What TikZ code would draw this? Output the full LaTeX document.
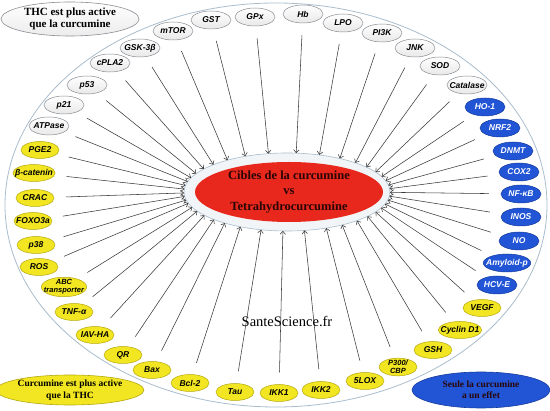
\documentclass[tikz,border=0pt]{standalone}
\usepackage{fontspec}
\setmainfont{Liberation Serif}
\newfontfamily\labfont{Liberation Sans}
\usetikzlibrary{shapes.geometric,calc,arrows.meta}
\definecolor{ylw}{HTML}{F2E622}
\definecolor{ylwdk}{HTML}{B5A810}
\definecolor{blu}{HTML}{2155D6}
\definecolor{bludk}{HTML}{163C9E}
\definecolor{redc}{HTML}{E8281C}
\definecolor{rim}{HTML}{A9BDCD}
\definecolor{halo}{HTML}{F2F5F8}
\definecolor{wbd}{HTML}{8A8F95}
\definecolor{lnc}{HTML}{3A3A3A}
\definecolor{ctext}{HTML}{2A0505}
\begin{document}
\begin{tikzpicture}[x=1pt,y=-1pt,
  tgt/.style={ellipse, inner xsep=-4pt, inner ysep=-0.5pt, line width=0.5pt,
    font=\labfont\bfseries\itshape\fontsize{8.5}{9}\selectfont, align=center},
  wnode/.style={tgt, draw=wbd, top color=white, bottom color=gray!18, minimum width=40pt, minimum height=18pt},
  bnode/.style={tgt, draw=bludk, fill=blu, text=white, minimum width=40pt, minimum height=18pt},
  ynode/.style={tgt, draw=ylwdk, fill=ylw, minimum width=38pt, minimum height=17pt},
  arr/.style={draw=lnc, line width=0.55pt, -{Straight Barb[length=3pt,width=5.5pt]}, shorten <=12pt},
  bigl/.style={ellipse, inner sep=0pt, line width=0.6pt, align=center, font=\bfseries\fontsize{9.5}{11.5}\selectfont}
]
\useasboundingbox (0,0) rectangle (550,411);
\fill[white] (0,0) rectangle (550,411);
% outer ring
\node[ellipse, draw=rim, line width=0.8pt, minimum width=542pt, minimum height=404pt, inner sep=0pt] (ring) at (276,205) {};
% hub
\node[ellipse, draw=rim, fill=halo, line width=0.6pt, minimum width=206pt, minimum height=78pt, inner sep=0pt] (hub) at (287,192) {};
\node[ellipse, fill=redc, minimum width=188pt, minimum height=60pt, inner sep=0pt, text=ctext, align=center,
  font=\bfseries\fontsize{12.5}{15.5}\selectfont] (core) at (289,192) {Cibles de la curcumine\\vs\\Tetrahydrocurcumine};
% white
\node[wnode] (w1) at (49,126) {ATPase};
\node[wnode] (w2) at (64,105) {p21};
\node[wnode] (w3) at (87,85) {p53};
\node[wnode] (w4) at (110,63) {cPLA2};
\node[wnode] (w5) at (140,48) {GSK-3β};
\node[wnode] (w6) at (173,31) {mTOR};
\node[wnode] (w7) at (211,20) {GST};
\node[wnode] (w8) at (255,17) {GPx};
\node[wnode] (w9) at (303,14) {Hb};
\node[wnode] (w10) at (343,23) {LPO};
\node[wnode] (w11) at (382,33) {PI3K};
\node[wnode] (w12) at (415,48) {JNK};
\node[wnode] (w13) at (440,66) {SOD};
\node[wnode] (w14) at (467,85) {Catalase};
% blue
\node[bnode] (b1) at (485,107) {HO-1};
\node[bnode] (b2) at (500,128) {NRF2};
\node[bnode] (b3) at (513,151) {DNMT};
\node[bnode] (b4) at (519,172) {COX2};
\node[bnode] (b5) at (521,194) {NF-κB};
\node[bnode] (b6) at (521,217) {INOS};
\node[bnode] (b7) at (519,241) {NO};
\node[bnode] (b8) at (507,263) {Amyloid-p};
\node[bnode] (b9) at (497,285) {HCV-E};
% yellow
\node[ynode] (y1) at (482,308) {VEGF};
\node[ynode] (y2) at (460,330) {Cyclin D1};
\node[ynode] (y3) at (433,350) {GSH};
\node[ynode, font=\labfont\bfseries\itshape\fontsize{7.5}{8}\selectfont] (y4) at (398,367) {P300/\\CBP};
\node[ynode] (y5) at (365,381) {5LOX};
\node[ynode] (y6) at (321,390) {IKK2};
\node[ynode] (y7) at (279,393) {IKK1};
\node[ynode] (y8) at (235,392) {Tau};
\node[ynode] (y9) at (190,383) {Bcl-2};
\node[ynode] (y10) at (152,370) {Bax};
\node[ynode] (y11) at (123,355) {QR};
\node[ynode] (y12) at (95,335) {IAV-HA};
\node[ynode] (y13) at (74,312) {TNF-α};
\node[ynode, font=\labfont\bfseries\itshape\fontsize{7.5}{8}\selectfont] (y14) at (64,287) {ABC\\transporter};
\node[ynode] (y15) at (39,267) {ROS};
\node[ynode] (y16) at (36,245) {p38};
\node[ynode] (y17) at (33,221) {FOXO3a};
\node[ynode] (y18) at (35,198) {CRAC};
\node[ynode] (y19) at (34,173) {β-catenin};
\node[ynode] (y20) at (40,150) {PGE2};
% arrows
\foreach \k in {w1,w2,w3,w4,w5,w6,w7,w8,w9,w10,w11,w12,w13,w14,b1,b2,b3,b4,b5,b6,b7,b8,b9,y1,y2,y3,y4,y5,y6,y7,y8,y9,y10,y11,y12,y13,y14,y15,y16,y17,y18,y19,y20}
  \draw[arr] let \p1=($(\k)-(hub.center)$), \n1={atan2(\y1,\x1)} in (\k) -- ($(hub.center)+(\n1:103pt and 39pt)$);
% legend labels
\node[bigl, draw=wbd, top color=white, bottom color=gray!15, minimum width=138pt, minimum height=34pt,
  font=\bfseries\fontsize{11}{12.5}\selectfont] (lthc) at (70,19) {THC est plus active\\que la curcumine};
\node[bigl, draw=ylwdk, fill=ylw, minimum width=136pt, minimum height=30pt] (lcur) at (70,390) {Curcumine est plus active\\que la THC};
\node[bigl, draw=bludk, fill=blu, text=ctext, minimum width=138pt, minimum height=36pt] (lseu) at (481,390) {Seule la curcumine\\a un effet};
\node[font=\fontsize{14.5}{16}\selectfont] (site) at (287,322) {SanteScience.fr};
\end{tikzpicture}
\end{document}
